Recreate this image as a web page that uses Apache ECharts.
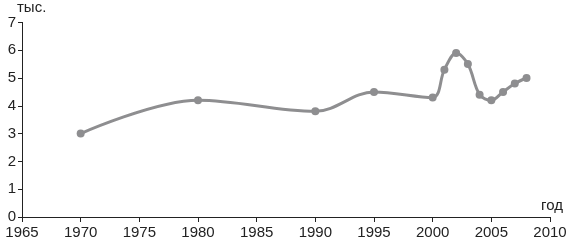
<!DOCTYPE html>
<html><head><meta charset="utf-8">
<script src="https://cdn.jsdelivr.net/npm/echarts@6/dist/echarts.min.js"></script>
<style>html,body{margin:0;padding:0;background:#fff}#c{width:574px;height:244px}</style>
</head><body><div id="c"></div>
<script>
const years = [1970, 1980, 1990, 1995, 2000, 2001, 2002, 2003, 2004, 2005, 2006, 2007, 2008];
const values = [3.0, 4.2, 3.8, 4.5, 4.3, 5.3, 5.9, 5.5, 4.4, 4.2, 4.5, 4.8, 5.0];
const yName = 'тыс.';
const xName = 'год';

const chart = echarts.init(document.getElementById('c'), null, {renderer: 'canvas'});
const font = 'Liberation Sans, Arial, sans-serif';
chart.setOption({
  animation: false,
  backgroundColor: '#fff',
  grid: {left: 22, right: 24, top: 22, bottom: 27},
  xAxis: {
    type: 'value', min: 1965, max: 2010, interval: 5,
    name: xName, nameLocation: 'end', nameGap: 2,
    nameTextStyle: {fontFamily: font, fontSize: 15, color: '#222', align: 'center', verticalAlign: 'bottom', padding: [0, 0, 4, 0]},
    axisLine: {show: true, lineStyle: {color: '#222', width: 1}},
    axisTick: {show: true, length: 5, lineStyle: {color: '#222'}},
    axisLabel: {fontFamily: font, fontSize: 15, color: '#222', margin: 8, formatter: v => String(v)},
    splitLine: {show: false}
  },
  yAxis: {
    type: 'value', min: 0, max: 7, interval: 1,
    name: yName, nameLocation: 'end', nameGap: 4,
    nameTextStyle: {fontFamily: font, fontSize: 15, color: '#222', align: 'left', padding: [0, 0, 0, -5]},
    axisLine: {show: true, lineStyle: {color: '#222', width: 1}},
    axisTick: {show: true, length: 4, lineStyle: {color: '#222'}},
    axisLabel: {fontFamily: font, fontSize: 15, color: '#222', margin: 6},
    splitLine: {show: false}
  },
  series: [{
    type: 'line',
    data: years.map((y, i) => [y, values[i]]),
    smooth: 0.35,
    symbol: 'circle', symbolSize: 8,
    lineStyle: {color: '#8e8e90', width: 3},
    itemStyle: {color: '#8e8e90'}
  }]
});
</script></body></html>
